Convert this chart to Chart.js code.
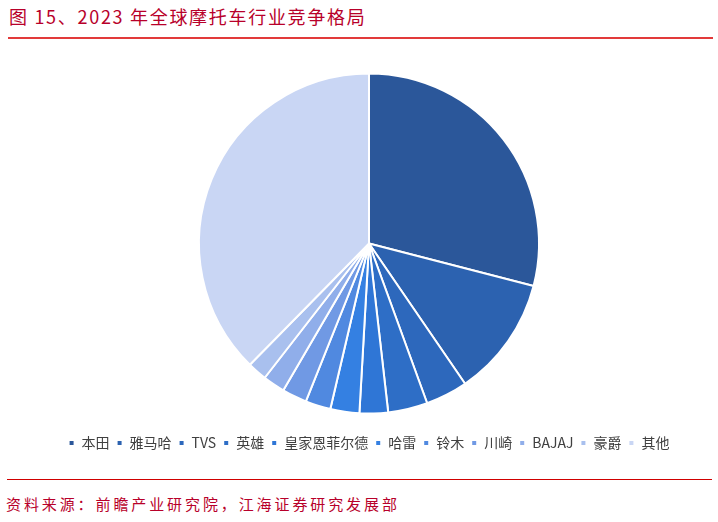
<!DOCTYPE html>
<html>
<head>
<meta charset="utf-8">
<script src="https://cdn.jsdelivr.net/npm/chart.js@4.4.1/dist/chart.umd.min.js"></script>
<style>
    body{ margin:0; width:718px; height:522px; background:#ffffff; position:relative; overflow:hidden; font-family:"Noto Sans CJK SC","Noto Sans",sans-serif; }
    #title{ position:absolute; left:9px; top:3px; font-size:18px; color:#B8002A; letter-spacing:1.7px; }
    #topLine{ position:absolute; left:8px; top:37px; width:705px; height:2px; background:#E23A3A; }
    #bottomLine{ position:absolute; left:7px; top:479px; width:705px; height:1px; background:#D00000; }
    #source{ position:absolute; left:6px; top:493px; font-size:15px; color:#B8002A; letter-spacing:2.9px; }
    #wrap{ position:absolute; left:0; top:40px; width:718px; height:430px; }
</style>
</head>
<body>

<div id="title">图 15、2023 年全球摩托车行业竞争格局</div>
<div id="topLine"></div>

<div id="wrap"><canvas id="pieChart"></canvas></div>

<div id="bottomLine"></div>
<div id="source">资料来源：前瞻产业研究院，江海证券研究发展部</div>

<script>

// ---------- Data ----------

const brands = ["本田","雅马哈","TVS","英雄","皇家恩菲尔德","哈雷","铃木","川崎","BAJAJ","豪爵","其他"];

const shares = [29.0, 11.4, 4.0, 3.75, 2.7, 2.75, 2.4, 2.35, 2.1, 1.85, 37.6];

const sliceColors = [
    "#2B579A",
    "#2C62B0",
    "#2D68BC",
    "#2E6EC6",
    "#2F76D6",
    "#3480E2",
    "#5089E0",
    "#7099E4",
    "#90AEEA",
    "#A9C0EE",
    "#C9D6F4"
];


// ---------- Pie ----------

new Chart(document.getElementById("pieChart"),{

    type:"pie",

    data:{
        labels:brands,
        datasets:[{
            data:shares,
            backgroundColor:sliceColors,
            borderColor:"#ffffff",
            borderWidth:2,
            radius:170
        }]
    },

    options:{
        responsive:true,
        maintainAspectRatio:false,
        animation:false,
        layout:{
            padding:{ top:18, left:20, right:0, bottom:10 }
        },
        plugins:{
            legend:{
                position:"bottom",
                labels:{
                    boxWidth:6,
                    boxHeight:6,
                    padding:7,
                    color:"#404040",
                    font:{ size:14, family:"'Noto Sans CJK SC', 'Noto Sans', sans-serif" }
                }
            },
            tooltip:{ enabled:false }
        }
    }

});

</script>
</body>
</html>
